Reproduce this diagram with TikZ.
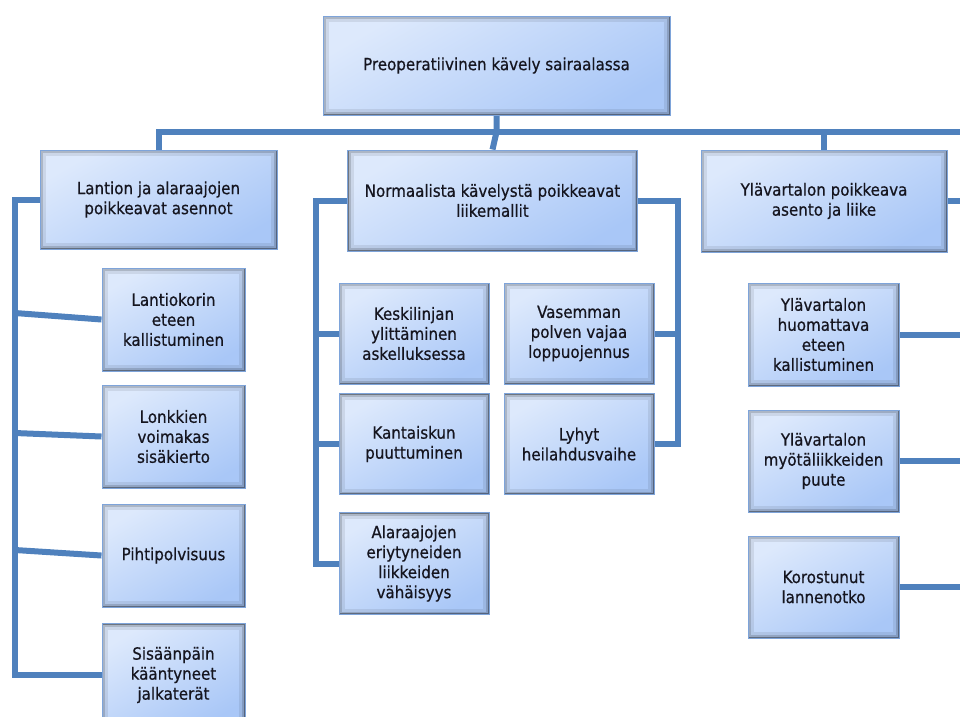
\documentclass[tikz,border=0pt]{standalone}
\usepackage{fontspec}
\setmainfont[FakeBold=0.6]{DejaVu Sans Condensed}
\usetikzlibrary{backgrounds}
\definecolor{linec}{HTML}{4F81BD}
\definecolor{boxtop}{HTML}{DDE9FC}
\definecolor{boxbot}{HTML}{A9C7F7}
\definecolor{boxedge}{HTML}{7EA4DA}
\definecolor{txt}{HTML}{15151F}
\tikzset{
  box/.style={draw=boxedge, line width=1pt, top color=boxtop, bottom color=boxbot,
    shading angle=30, align=center, text=txt, inner sep=0pt,
    font=\fontsize{16.8}{20}\selectfont,
    path picture={
      \draw[black, opacity=0.08, line width=12pt] (path picture bounding box.south west) rectangle (path picture bounding box.north east);
      \draw[black, opacity=0.15, line width=6pt] (path picture bounding box.south west) rectangle (path picture bounding box.north east);
      \draw[black, opacity=0.35, line width=2.5pt] (path picture bounding box.south west) rectangle (path picture bounding box.north east);
    }},
  conn/.style={draw=linec, line width=6pt}
}
\begin{document}
\begin{tikzpicture}[x=1pt,y=-1pt]
\useasboundingbox (0,0) rectangle (960,716);
\clip (0,0) rectangle (960,716);
% boxes
\node[box, minimum width=347pt, minimum height=99pt] (top) at (496.5,65.5) {Preoperatiivinen kävely sairaalassa};
\node[box, minimum width=237pt, minimum height=99pt] (L) at (158.5,199.5) {Lantion ja alaraajojen\\poikkeavat asennot};
\node[box, minimum width=290pt, minimum height=101pt] (M) at (492.5,200.5) {Normaalista kävelystä poikkeavat\\liikemallit};
\node[box, minimum width=246pt, minimum height=102pt] (R) at (824,201) {Ylävartalon poikkeava\\asento ja liike};
\node[box, minimum width=143pt, minimum height=103pt] (l1) at (173.5,319.5) {Lantiokorin\\eteen\\kallistuminen};
\node[box, minimum width=143pt, minimum height=103pt] (l2) at (173.5,436.5) {Lonkkien\\voimakas\\sisäkierto};
\node[box, minimum width=143pt, minimum height=103pt] (l3) at (173.5,555.5) {Pihtipolvisuus};
\node[box, minimum width=143pt, minimum height=103pt] (l4) at (173.5,675) {Sisäänpäin\\kääntyneet\\jalkaterät};
\node[box, minimum width=150pt, minimum height=101pt] (m1) at (414,333.5) {Keskilinjan\\ylittäminen\\askelluksessa};
\node[box, minimum width=150pt, minimum height=101pt] (m2) at (579,333.5) {Vasemman\\polven vajaa\\loppuojennus};
\node[box, minimum width=150pt, minimum height=101pt] (m3) at (414,444) {Kantaiskun\\puuttuminen};
\node[box, minimum width=150pt, minimum height=101pt] (m4) at (579,444) {Lyhyt\\heilahdusvaihe};
\node[box, minimum width=150pt, minimum height=102pt] (m5) at (414,563.5) {Alaraajojen\\eriytyneiden\\liikkeiden\\vähäisyys};
\node[box, minimum width=151pt, minimum height=103pt] (r1) at (823.5,334.5) {Ylävartalon\\huomattava\\eteen\\kallistuminen};
\node[box, minimum width=151pt, minimum height=102pt] (r2) at (823.5,461) {Ylävartalon\\myötäliikkeiden\\puute};
\node[box, minimum width=151pt, minimum height=102pt] (r3) at (823.5,587) {Korostunut\\lannenotko};
% helper coordinates
\coordinate (barL) at (157,132);
\coordinate (barR) at (975,132);
\coordinate (lsTop) at (15,199.5);
\coordinate (lsBot) at (15,675);
\coordinate (s1) at (15,313);
\coordinate (s2) at (15,433);
\coordinate (s3) at (15,550);
\coordinate (mlBot) at (316,563.5);
\coordinate (mrBot) at (678,444);
\coordinate (rEdge) at (975,0);
% connectors
\begin{scope}[on background layer]
\draw[conn] (top.south) -- (top.south |- barL) -- (M.north);
\draw[conn] (L.north) -- (L.north |- barL) -- (barR);
\draw[conn] (R.north |- barL) -- (R.north);
\draw[conn] (L.west) -- (lsTop) -- (lsBot) -- (l4.west);
\draw[conn] (s1) -- (l1.west);
\draw[conn] (s2) -- (l2.west);
\draw[conn] (s3) -- (l3.west);
\draw[conn] (M.west) -- (M.west -| mlBot) -- (mlBot) -- (m5.west);
\draw[conn] (m1.west -| mlBot) -- (m1.west);
\draw[conn] (m3.west -| mlBot) -- (m3.west);
\draw[conn] (M.east) -- (M.east -| mrBot) -- (mrBot) -- (m4.east);
\draw[conn] (m2.east -| mrBot) -- (m2.east);
\draw[conn] (R.east) -- (R.east -| rEdge);
\draw[conn] (r1.east) -- (r1.east -| rEdge);
\draw[conn] (r2.east) -- (r2.east -| rEdge);
\draw[conn] (r3.east) -- (r3.east -| rEdge);
\end{scope}
\end{tikzpicture}
\end{document}
